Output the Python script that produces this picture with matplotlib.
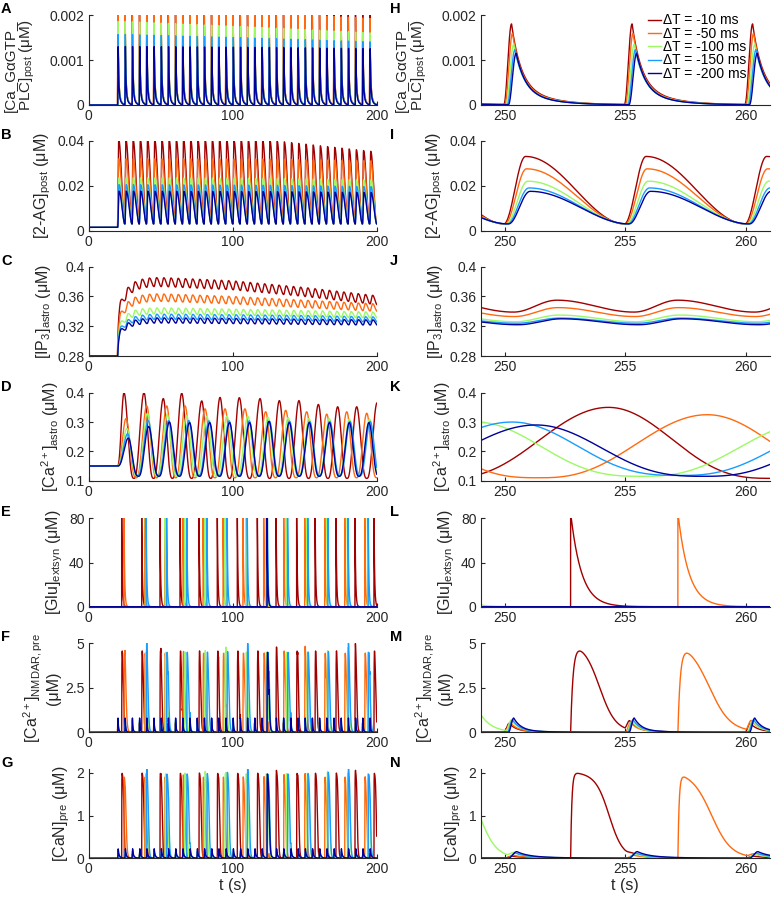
import numpy as np
import matplotlib
matplotlib.use('Agg')
import matplotlib.pyplot as plt

plt.rcParams['font.family'] = ['Liberation Sans', 'DejaVu Sans']
plt.rcParams['mathtext.fontset'] = 'custom'
plt.rcParams['mathtext.rm'] = 'Liberation Sans'
plt.rcParams['mathtext.it'] = 'Liberation Sans:italic'
plt.rcParams['mathtext.bf'] = 'Liberation Sans:bold'

# ---------------- data ----------------
series_labels = ['ΔT = -10 ms', 'ΔT = -50 ms', 'ΔT = -100 ms', 'ΔT = -150 ms', 'ΔT = -200 ms']
colors = ['#A00000', '#FF6A10', '#9CF964', '#1A9CFF', '#00009C']
post_delay = [0.0, 0.04, 0.09, 0.14, 0.19]          # s, onset shift of each series

# stimulation protocol (post spikes)
stim_start_left = 19.96
stim_period = 5.0
n_stim_left = 36
stim_onsets_right = [239.96, 244.96, 249.96, 254.96, 259.96]

# A / H : Ca_GaGTP_PLC peak amplitudes (uM)
plc_anchor_t = [20, 120, 196]
plc_amp_left = [[0.00205, 0.00205, 0.00205],
                [0.00205, 0.00205, 0.00192],
                [0.00186, 0.00172, 0.00160],
                [0.00157, 0.00148, 0.00140],
                [0.00130, 0.00128, 0.00125]]
plc_amp_right = [0.00180, 0.00159, 0.00135, 0.00123, 0.00115]

# B / I : 2-AG cycle amplitude above floor (uM)
ag_anchor_t = [20, 125, 196]
ag_amp_left = [[0.0375, 0.0372, 0.0322],
               [0.0290, 0.0288, 0.0280],
               [0.0205, 0.0202, 0.0195],
               [0.0175, 0.0172, 0.0166],
               [0.0146, 0.0144, 0.0140]]
ag_amp_right = [0.0300, 0.0245, 0.0190, 0.0160, 0.0145]
ag_floor = 0.003
ag_base = 0.0015

# C / J : IP3 midline and oscillation (uM)
ip3_anchor_t = [20, 45, 100, 150, 200]
ip3_mid_left = [[0.379, 0.380, 0.375, 0.366, 0.355],
                [0.358, 0.359, 0.355, 0.350, 0.345],
                [0.341, 0.341, 0.339, 0.337, 0.335],
                [0.332, 0.333, 0.332, 0.331, 0.329],
                [0.327, 0.328, 0.327, 0.326, 0.325]]
ip3_p2p_left = [0.012, 0.010, 0.008, 0.007, 0.007]
ip3_mid_right = [0.347, 0.339, 0.3305, 0.3275, 0.326]
ip3_p2p_right = [0.016, 0.012, 0.009, 0.007, 0.008]
ip3_base = 0.28

# D / K : astrocytic Ca2+ peaks (s) and heights (uM)
ca_peaks_left = [
    [24.5, 38.4, 51.8, 64.6, 78.5, 91.2, 104.6, 119.0, 132.4, 146.0, 159.5, 172.9, 186.1, 200.3, 214.0],
    [25.9, 40.3, 54.2, 66.9, 80.8, 94.7, 108.5, 122.9, 136.8, 151.4, 165.3, 179.2, 193.1, 207.0],
    [26.5, 40.8, 54.5, 68.0, 82.0, 96.0, 110.5, 124.5, 138.5, 153.0, 167.0, 181.0, 195.0, 209.0],
    [27.0, 41.3, 55.5, 69.5, 83.5, 97.5, 111.5, 125.5, 139.5, 153.5, 167.5, 181.5, 195.5, 209.5],
    [27.5, 41.6, 56.0, 70.0, 84.0, 97.8, 111.7, 125.2, 139.3, 153.2, 167.2, 181.0, 194.6, 208.5]]
ca_heights_left = [
    [0.400, 0.400, 0.380, 0.398, 0.372, 0.384, 0.383, 0.380, 0.373, 0.373, 0.360, 0.352, 0.352, 0.366, 0.36],
    [0.312, 0.355, 0.355, 0.355, 0.345, 0.345, 0.345, 0.335, 0.340, 0.335, 0.327, 0.335, 0.330, 0.33],
    [0.278, 0.330, 0.325, 0.322, 0.320, 0.320, 0.320, 0.316, 0.315, 0.312, 0.312, 0.310, 0.310, 0.31],
    [0.260, 0.305, 0.305, 0.305, 0.304, 0.304, 0.304, 0.303, 0.303, 0.302, 0.302, 0.302, 0.302, 0.30],
    [0.245, 0.285, 0.300, 0.298, 0.298, 0.298, 0.298, 0.302, 0.298, 0.298, 0.298, 0.298, 0.298, 0.298]]
ca_trough = [0.108, 0.110, 0.115, 0.118, 0.115]
ca_base = 0.15
ca_peaks_right = [[240.7, 254.3, 267.9],
                  [244.5, 258.4, 272.3],
                  [234.9, 248.8, 262.7],
                  [236.3, 250.3, 264.3],
                  [237.3, 251.3, 265.3]]
ca_heights_right = [[0.35, 0.35, 0.35],
                    [0.325, 0.325, 0.325],
                    [0.30, 0.30, 0.30],
                    [0.30, 0.30, 0.30],
                    [0.29, 0.29, 0.29]]

# E / L : astrocytic glutamate release times (s)
glu_release_left = [
    [22.9, 36.8, 49.5, 63.4, 76.6, 89.3, 103.2, 117.1, 130.1, 144.4, 157.2, 171.7, 184.9, 198.1],
    [24.5, 38.9, 52.8, 65.5, 79.4, 93.3, 107.1, 121.5, 135.4, 150.0, 163.9, 177.8, 191.7],
    [39.4, 53.1, 66.6, 80.6, 94.6, 109.1, 123.1, 137.1, 151.6, 165.6, 179.6, 193.6],
    [39.9, 54.1, 68.1, 82.1, 96.1, 110.1, 124.1, 138.1, 152.1, 166.1, 180.1, 194.1],
    [123.8]]
glu_release_right = [[252.73], [257.18], [247.2], [], []]
glu_peak = 85.0

# F / M : presynaptic NMDAR Ca2+ (uM)
nmdar_small_amp = [0.50, 0.55, 0.62, 0.70, 0.80]
nmdar_big_amp = 4.85
nmdar_big_c = [1.20, 1.31, 1.25, 1.25, 1.25]
nmdar_big_w = [0.33, 0.43, 0.38, 0.38, 0.38]

# G / N : presynaptic CaN (uM)
can_small_amp_left = [0.08, 0.10, 0.13, 0.17, 0.22]
can_small_amp_right = [0.05, 0.07, 0.095, 0.12, 0.155]
can_big_amp = 1.93
can_big_c = [1.60, 1.40, 1.75, 1.55, 1.55]
can_big_w = [0.28, 0.40, 0.35, 0.32, 0.32]

# ---------------- helpers ----------------
t_left = np.arange(0.0, 200.0 + 1e-9, 0.01)
t_right = np.arange(249.0, 261.0 + 1e-9, 0.002)


def rise_decay(t, t0, rise, tf, ts, wf):
    y = np.zeros_like(t)
    s = t - t0
    m = s > 0
    ss = s[m]
    r = np.where(ss < rise, 0.5 - 0.5 * np.cos(np.pi * np.minimum(ss, rise) / rise), 1.0)
    x = np.maximum(ss - rise, 0)
    d = np.where(ss < rise, 1.0, wf * np.exp(-x / tf) + (1 - wf) * np.exp(-x / ts))
    y[m] = r * d
    return y


def plc_trace(t, onsets, amps):
    y = np.zeros_like(t)
    for t0, a in zip(onsets, amps):
        y += a * rise_decay(t, t0, 0.32, 0.38, 1.2, 0.72)
    return y


def ag_shape(s):
    up = 0.5 - 0.5 * np.cos(np.pi * np.clip(s, 0, 0.9) / 0.9)
    dn = ((1 + np.cos(np.pi * np.clip(s - 0.9, 0, 4.1) / 4.1)) / 2) ** 0.95
    return np.where(s < 0.9, up, dn)


def ag_trace(t, onsets, amps, first_from_base):
    y = np.full_like(t, ag_base if first_from_base else ag_floor)
    for k, (t0, a) in enumerate(zip(onsets, amps)):
        t1 = onsets[k + 1] if k + 1 < len(onsets) else np.inf
        m = (t >= t0) & (t < t1)
        s = t[m] - t0
        fl = ag_floor
        if k == 0 and first_from_base:
            fl = ag_base + (ag_floor - ag_base) * np.clip(s / 0.9, 0, 1)
        y[m] = fl + a * ag_shape(s)
    return y


def ip3_cycle(t, onsets):
    # 0 at the kink just after each post spike, 1 at the maximum
    ref = onsets[0] + 0.4
    sp = np.mod(t - ref, stim_period)
    up = 0.5 - 0.5 * np.cos(np.pi * np.clip(sp, 0, 1.8) / 1.8)
    dn = 0.5 + 0.5 * np.cos(np.pi * np.clip(sp - 1.8, 0, 3.2) / 3.2)
    return np.where(sp < 1.8, up, dn)


def ca_wave(t, peaks, heights, trough, start=None, p_rise=1.3, p_fall=1.5):
    y = np.full_like(t, ca_base)
    if start is not None:
        m = (t >= start) & (t < peaks[0])
        x = (t[m] - start) / (peaks[0] - start)
        y[m] = ca_base + (heights[0] - ca_base) * (0.5 - 0.5 * np.cos(np.pi * x)) ** p_rise
    for i in range(len(peaks) - 1):
        m = (t >= peaks[i]) & (t < peaks[i + 1])
        phi = (t[m] - peaks[i]) / (peaks[i + 1] - peaks[i])
        c = (1 + np.cos(2 * np.pi * phi)) / 2
        y[m] = np.where(phi < 0.5,
                        trough + (heights[i] - trough) * c ** p_fall,
                        trough + (heights[i + 1] - trough) * c ** p_rise)
    return y


def glu_trace(t, rel):
    y = np.zeros_like(t)
    for t0 in rel:
        s = t - t0
        m = s >= 0
        y[m] += glu_peak * np.exp(-s[m] / 0.45)
    return y


def big_pulse(t, rel, amp, c, w, trise):
    y = np.zeros_like(t)
    for t0 in rel:
        s = t - t0
        m = s > 0
        ss = s[m]
        y[m] += amp * (1 - np.exp(-ss / trise)) * (1 / (1 + np.exp((ss - c) / w)) + 0.05 * np.exp(-ss / 1.5))
    return y


def small_bumps(t, onsets, amp, rise, tf, ts, wf):
    y = np.zeros_like(t)
    for t0 in onsets:
        y += amp * rise_decay(t, t0, rise, tf, ts, wf)
    return y


stim_left = stim_start_left + stim_period * np.arange(n_stim_left)

left_data = [[] for _ in range(7)]
right_data = [[] for _ in range(7)]
for i in range(5):
    onL = stim_left + post_delay[i]
    onR = np.array(stim_onsets_right) + post_delay[i]
    # A
    ampsA = np.interp(onL, plc_anchor_t, plc_amp_left[i])
    left_data[0].append(plc_trace(t_left, onL, ampsA))
    right_data[0].append(plc_trace(t_right, onR, [plc_amp_right[i]] * len(onR)))
    # B
    ampsB = np.interp(onL, ag_anchor_t, ag_amp_left[i])
    left_data[1].append(ag_trace(t_left, list(onL), list(ampsB), True))
    right_data[1].append(ag_trace(t_right, list(onR), [ag_amp_right[i]] * len(onR), False))
    # C
    s0 = t_left - onL[0]
    on = s0 > 0
    fast = np.where(on, 1 - np.exp(-np.maximum(s0, 0) / 0.4), 0.0)
    slow = np.where(on, 1 - 0.45 * np.exp(-np.maximum(s0, 0) / 6.0), 0.0)
    mid = np.interp(t_left, ip3_anchor_t, ip3_mid_left[i])
    cyc = ip3_cycle(t_left, onL)
    yC = ip3_base + fast * slow * (mid - ip3_base) + fast * ip3_p2p_left[i] * (cyc - 0.5)
    left_data[2].append(np.where(on, yC, ip3_base))
    right_data[2].append(ip3_mid_right[i] + ip3_p2p_right[i] * (ip3_cycle(t_right, onR) - 0.5))
    # D
    left_data[3].append(ca_wave(t_left, ca_peaks_left[i], ca_heights_left[i], ca_trough[i], start=onL[0]))
    right_data[3].append(ca_wave(t_right, ca_peaks_right[i], ca_heights_right[i], ca_trough[i]))
    # E
    left_data[4].append(glu_trace(t_left, glu_release_left[i]))
    right_data[4].append(glu_trace(t_right, glu_release_right[i]))
    # F
    left_data[5].append(small_bumps(t_left, onL, nmdar_small_amp[i], 0.22, 0.3, 1.0, 0.85)
                        + big_pulse(t_left, glu_release_left[i], nmdar_big_amp, nmdar_big_c[i], nmdar_big_w[i], 0.1))
    right_data[5].append(small_bumps(t_right, onR, nmdar_small_amp[i], 0.22, 0.3, 1.0, 0.85)
                         + big_pulse(t_right, glu_release_right[i], nmdar_big_amp, nmdar_big_c[i], nmdar_big_w[i], 0.1))
    # G
    left_data[6].append(small_bumps(t_left, onL, can_small_amp_left[i], 0.35, 0.45, 1.5, 0.7)
                        + big_pulse(t_left, glu_release_left[i], can_big_amp, can_big_c[i], can_big_w[i], 0.05))
    right_data[6].append(small_bumps(t_right, onR, can_small_amp_right[i], 0.35, 0.45, 1.5, 0.7)
                         + big_pulse(t_right, glu_release_right[i], can_big_amp, can_big_c[i], can_big_w[i], 0.05))

# ---------------- layout ----------------
W, H = 773, 900
fig = plt.figure(figsize=(W / 100, H / 100), dpi=100)

bottoms_px = [105, 230.7, 356, 480.7, 606.7, 732.3, 858.3]
tops_px = [15.3, 140.7, 266.7, 392.7, 518.3, 643.3, 768.6]
col_x = [(88.7, 376.7), (480.7, 770.0)]
xlims = [(0, 200), (249, 261)]
xticks = [[0, 100, 200], [250, 255, 260]]
ylims = [(0, 0.002), (0, 0.04), (0.28, 0.4), (0.1, 0.4), (0, 80), (0, 5), (0, 2.1)]
yticks = [[0, 0.001, 0.002], [0, 0.02, 0.04], [0.28, 0.32, 0.36, 0.4], [0.1, 0.2, 0.3, 0.4],
          [0, 40, 80], [0, 2.5, 5], [0, 1, 2]]
yticklabels = [['0', '0.001', '0.002'], ['0', '0.02', '0.04'], ['0.28', '0.32', '0.36', '0.4'],
               ['0.1', '0.2', '0.3', '0.4'], ['0', '40', '80'], ['0', '2.5', '5'], ['0', '1', '2']]
ylabels = ['[Ca_GαGTP_\nPLC]$_{\\rm post}$ (μM)',
           '[2-AG]$_{\\rm post}$ (μM)',
           '[IP$_{\\rm 3}$]$_{\\rm astro}$ (μM)',
           '[Ca$^{\\rm 2+}$]$_{\\rm astro}$ (μM)',
           '[Glu]$_{\\rm extsyn}$ (μM)',
           '[Ca$^{\\rm 2+}$]$_{\\rm NMDAR,pre}$\n(μM)',
           '[CaN]$_{\\rm pre}$ (μM)']
letters = [list('ABCDEFG'), list('HIJKLMN')]
axc = '#262626'

for col in range(2):
    x0, x1 = col_x[col]
    tt = t_left if col == 0 else t_right
    data = left_data if col == 0 else right_data
    for r in range(7):
        ax = fig.add_axes([x0 / W, 1 - bottoms_px[r] / H, (x1 - x0) / W, (bottoms_px[r] - tops_px[r]) / H])
        for i in range(5):
            ax.plot(tt, data[r][i], color=colors[i], lw=1.0, label=series_labels[i])
        ax.set_xlim(*xlims[col])
        ax.set_ylim(*ylims[r])
        ax.set_xticks(xticks[col])
        ax.set_yticks(yticks[r])
        ax.set_yticklabels(yticklabels[r])
        for sp in ['top', 'right']:
            ax.spines[sp].set_visible(False)
        for sp in ['left', 'bottom']:
            ax.spines[sp].set_color(axc)
            ax.spines[sp].set_linewidth(0.8)
        ax.tick_params(direction='in', length=3, width=0.8, color=axc, labelcolor=axc,
                       labelsize=10, pad=3)
        ax.set_ylabel(ylabels[r], fontsize=11.5 if r > 0 else 11, color=axc, labelpad=3, linespacing=1.05)
        if r == 0:
            ax.yaxis.set_label_coords(-0.178, 0.44)
        fig.text((1 if col == 0 else 390) / W, 1 - (tops_px[r] - 6) / H, letters[col][r],
                 fontsize=10.5, fontweight='bold', ha='left', va='center', color='black')
        if r == 6:
            ax.set_xlabel('t (s)', fontsize=11.5, color=axc, labelpad=1)
        if col == 1 and r == 0:
            ax.legend(loc='upper left', bbox_to_anchor=(648 / W, 1 - 13.5 / H),
                      bbox_transform=fig.transFigure, frameon=False, fontsize=10,
                      handlelength=0.95, handletextpad=0.15, labelspacing=-0.05,
                      borderpad=0, borderaxespad=0)

fig.savefig('out.png', dpi=100)
